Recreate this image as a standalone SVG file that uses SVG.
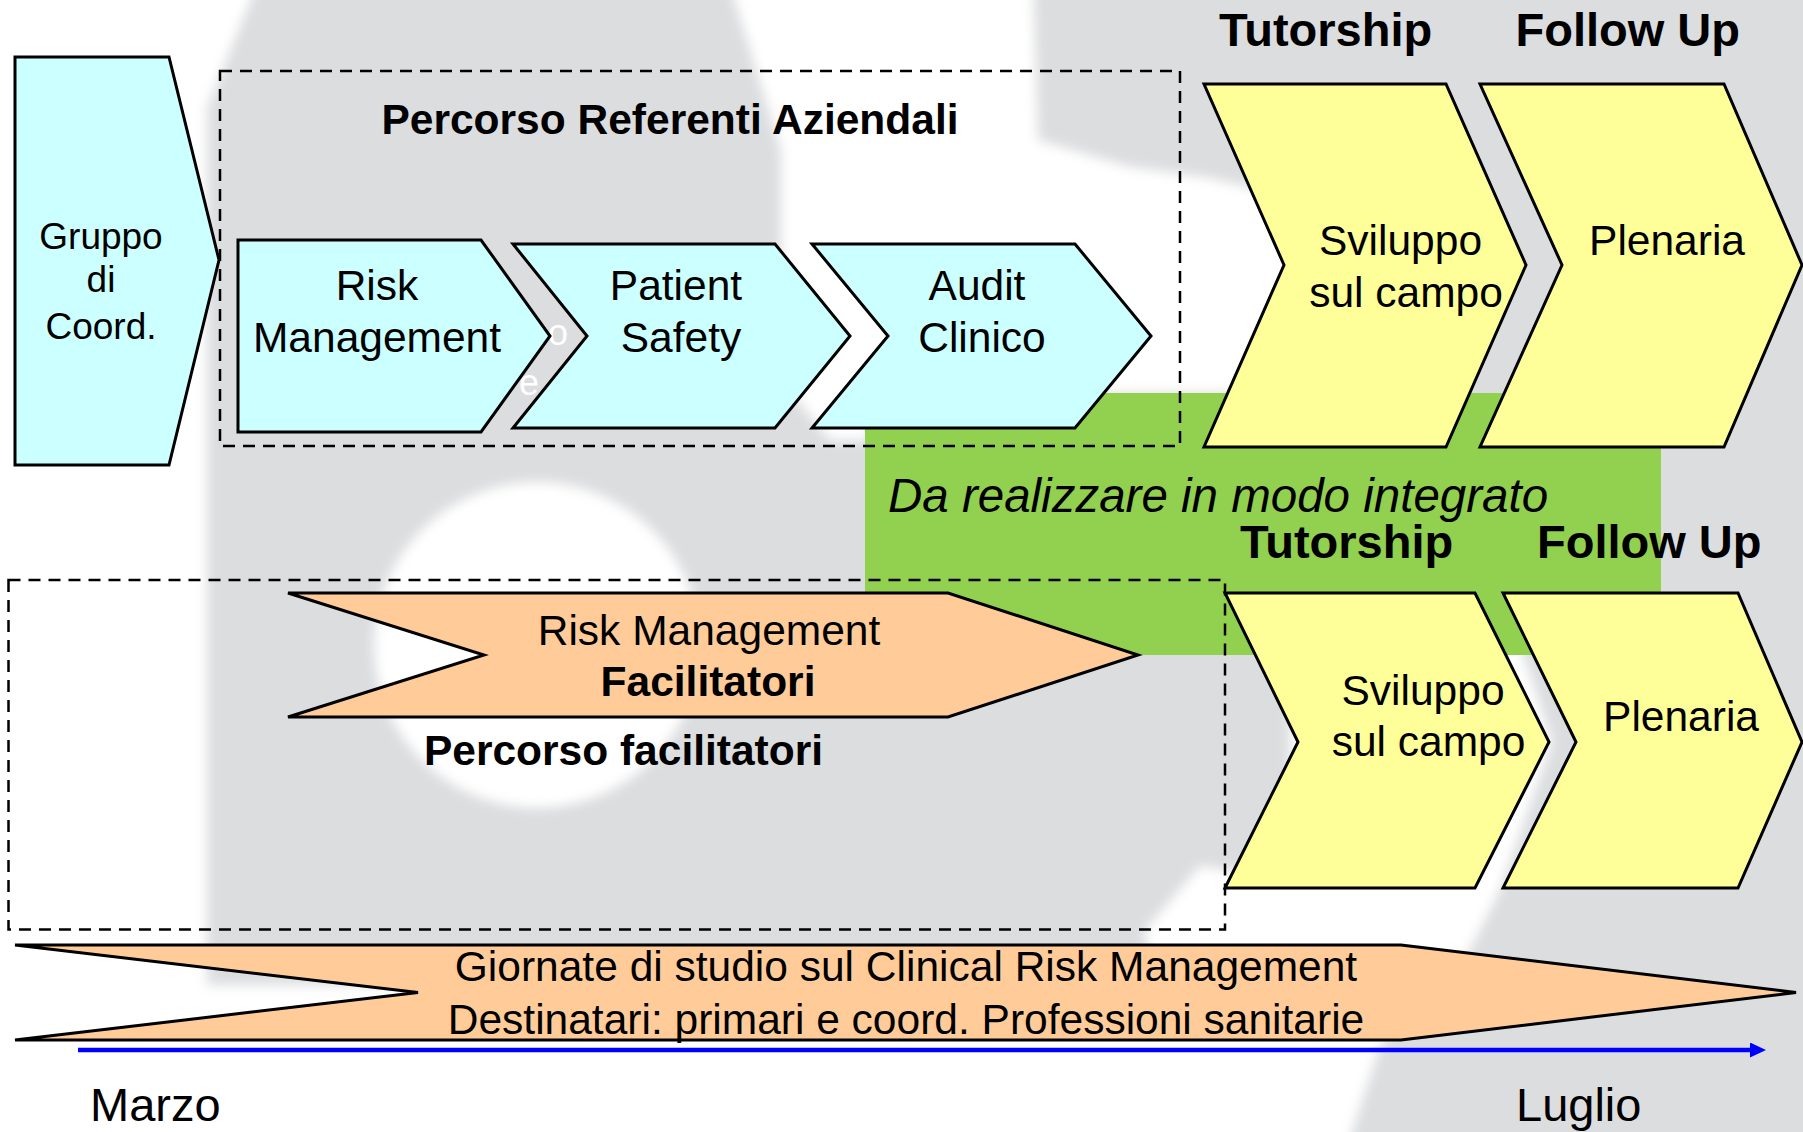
<svg xmlns="http://www.w3.org/2000/svg" width="1803" height="1132" viewBox="0 0 1803 1132">
<defs>
<style>
.cy{fill:#CCFFFF;stroke:#000;stroke-width:3;stroke-linejoin:miter}
.ye{fill:#FFFF99;stroke:#000;stroke-width:3;stroke-linejoin:miter}
.or{fill:#FFCC99;stroke:#000;stroke-width:3;stroke-linejoin:miter}
.dash{fill:none;stroke:#000;stroke-width:2.5;stroke-dasharray:12 8}
.t{font-family:"Liberation Sans",Arial,sans-serif;font-size:42.5px;fill:#000}
.g{font-size:37px}
.h{font-size:47px;font-weight:bold}
.b{font-weight:bold}
.c{text-anchor:middle}
.w{fill:#FFFFFF;font-size:36px}
</style>
<filter id="soft" filterUnits="userSpaceOnUse" x="-100" y="-100" width="2000" height="1400">
<feGaussianBlur stdDeviation="6"/>
</filter>
<marker id="ah" markerUnits="userSpaceOnUse" markerWidth="17" markerHeight="16" refX="0" refY="7.5" orient="auto">
<path d="M0,0 L16,7.5 L0,15 Z" fill="#0000FF"/>
</marker>
</defs>

<g id="background">
<rect x="0" y="0" width="1803" height="1132" fill="#DCDDDF"/>
<g filter="url(#soft)" fill="#FFFFFF">
<polygon points="-60,-60 275,-60 207,108 207,985 1150,985 1145,930 1200,866 1290,880 1290,660 1520,645 1552,742 1500,890 1470,950 1380,1046 1330,1200 -60,1200"/>
<polygon points="716,-60 1032,-60 1038,140 1130,167 1210,178 1300,200 1300,393 870,393 870,440 830,440 781,380 781,150"/>
<circle cx="537" cy="645" r="163"/>
</g>
<rect x="865" y="393" width="796" height="262" fill="#92D050"/>
<text class="t w" x="548" y="345">o</text>
<text class="t w" x="519" y="395">e</text>
</g>

<g id="group-referenti">
<rect class="dash" x="220" y="71" width="960" height="375"/>
<text class="t b c" x="670" y="134">Percorso Referenti Aziendali</text>
</g>

<g id="group-facilitatori">
<rect class="dash" x="8.5" y="580" width="1216.5" height="349.5"/>
<text class="t b c" x="623.5" y="765">Percorso facilitatori</text>
</g>

<g id="integrato">
<text class="t" x="888" y="512" style="font-style:italic;font-size:47.5px">Da realizzare in modo integrato</text>
</g>

<g id="gruppo">
<polygon class="cy" points="15,57 169,57 219,260 169,465 15,465"/>
<text class="t g c" x="101" y="249">Gruppo</text>
<text class="t g c" x="101" y="292">di</text>
<text class="t g c" x="101" y="339">Coord.</text>
</g>

<g id="risk-management">
<polygon class="cy" points="238,240 481,240 550,336 481,432 238,432"/>
<text class="t c" x="377" y="300">Risk</text>
<text class="t c" x="377" y="352">Management</text>
</g>

<g id="patient-safety">
<polygon class="cy" points="513,244 775,244 850,336 775,428 513,428 587,336"/>
<text class="t c" x="676" y="300">Patient</text>
<text class="t c" x="681" y="352">Safety</text>
</g>

<g id="audit-clinico">
<polygon class="cy" points="812,244 1075,244 1151,336 1075,428 812,428 888,336"/>
<text class="t c" x="977" y="300">Audit</text>
<text class="t c" x="982" y="352">Clinico</text>
</g>

<g id="tutorship-top">
<text class="t h" x="1219" y="46">Tutorship</text>
<polygon class="ye" points="1204,84 1446,84 1526,265 1446,447 1204,447 1284,265"/>
<text class="t c" x="1400.5" y="254.5">Sviluppo</text>
<text class="t c" x="1406" y="307">sul campo</text>
</g>

<g id="followup-top">
<text class="t h" x="1515.5" y="46">Follow Up</text>
<polygon class="ye" points="1480,84 1724,84 1802,265 1724,447 1480,447 1562,265"/>
<text class="t c" x="1667" y="254.5">Plenaria</text>
</g>

<g id="tutorship-bottom">
<text class="t h" x="1240" y="558">Tutorship</text>
<polygon class="ye" points="1225,593 1475,593 1549,742 1475,888 1225,888 1298,742"/>
<text class="t c" x="1423" y="705">Sviluppo</text>
<text class="t c" x="1428.5" y="755.5">sul campo</text>
</g>

<g id="followup-bottom">
<text class="t h" x="1537" y="558">Follow Up</text>
<polygon class="ye" points="1503,593 1738,593 1802,742 1738,888 1503,888 1576,742"/>
<text class="t c" x="1681" y="731">Plenaria</text>
</g>

<g id="rm-facilitatori">
<polygon class="or" points="288,593 948,593 1138,655 948,717 288,717 484,655"/>
<text class="t c" x="709" y="645">Risk Management</text>
<text class="t b c" x="708" y="696">Facilitatori</text>
</g>

<g id="giornate">
<polygon class="or" points="15,945 1401,945 1796,992.5 1401,1040 15,1040 418,992.5"/>
<text class="t c" x="906" y="981">Giornate di studio sul Clinical Risk Management</text>
<text class="t c" x="906" y="1033.5">Destinatari: primari e coord. Professioni sanitarie</text>
</g>

<g id="connectors">
<line x1="78" y1="1050" x2="1750" y2="1050" stroke="#0000FF" stroke-width="4.5" marker-end="url(#ah)"/>
</g>

<g id="timeline-labels">
<text class="t" x="90" y="1121" style="font-size:47px">Marzo</text>
<text class="t" x="1516" y="1121" style="font-size:47px">Luglio</text>
</g>
</svg>
